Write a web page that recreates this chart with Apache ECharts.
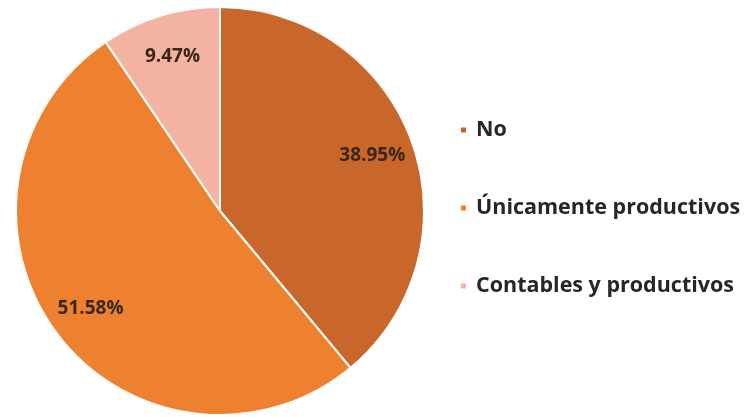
<!DOCTYPE html>
<html>
<head>
<meta charset="utf-8">
<script src="https://cdn.jsdelivr.net/npm/echarts@6/dist/echarts.min.js"></script>
<style>html,body{margin:0;padding:0;background:#fff}#c{width:744px;height:417px}</style>
</head>
<body>
<div id="c"></div>
<script>
const categories = ['No', 'Únicamente productivos', 'Contables y productivos'];
const values = [38.95, 51.58, 9.47];
const colors = ['#C9672B', '#EE8130', '#F4B3A2'];

const chart = echarts.init(document.getElementById('c'), null, {renderer: 'canvas'});
const data = categories.map((n, i) => ({name: n, value: values[i], itemStyle: {color: colors[i]}}));
chart.setOption({
  animation: false,
  legend: {
    orient: 'vertical',
    left: 454,
    top: 114,
    itemGap: 56,
    itemWidth: 7,
    itemHeight: 7,
    icon: 'rect',
    textStyle: {fontFamily: 'Open Sans', fontWeight: 'bold', fontSize: 21.5, color: '#262626', padding: [0, 0, 0, 4]},
    data: categories
  },
  series: [
    {
      type: 'pie',
      center: [220, 211],
      radius: [0, 204],
      startAngle: 90,
      clockwise: true,
      label: {show: false},
      labelLine: {show: false},
      itemStyle: {borderColor: '#fff', borderWidth: 2},
      data: data,
      silent: true
    },
    {
      type: 'pie',
      center: [220, 211],
      radius: [108, 210],
      startAngle: 90,
      clockwise: true,
      silent: true,
      itemStyle: {color: 'rgba(0,0,0,0)'},
      label: {
        show: true,
        position: 'inside',
        formatter: p => p.value.toFixed(2) + '%',
        fontFamily: 'Open Sans',
        fontWeight: 'bold',
        fontSize: 19,
        color: '#3a2618'
      },
      labelLine: {show: false},
      data: categories.map((n, i) => ({name: n, value: values[i], itemStyle: {color: 'rgba(0,0,0,0)'}}))
    }
  ]
});
</script>
</body>
</html>
